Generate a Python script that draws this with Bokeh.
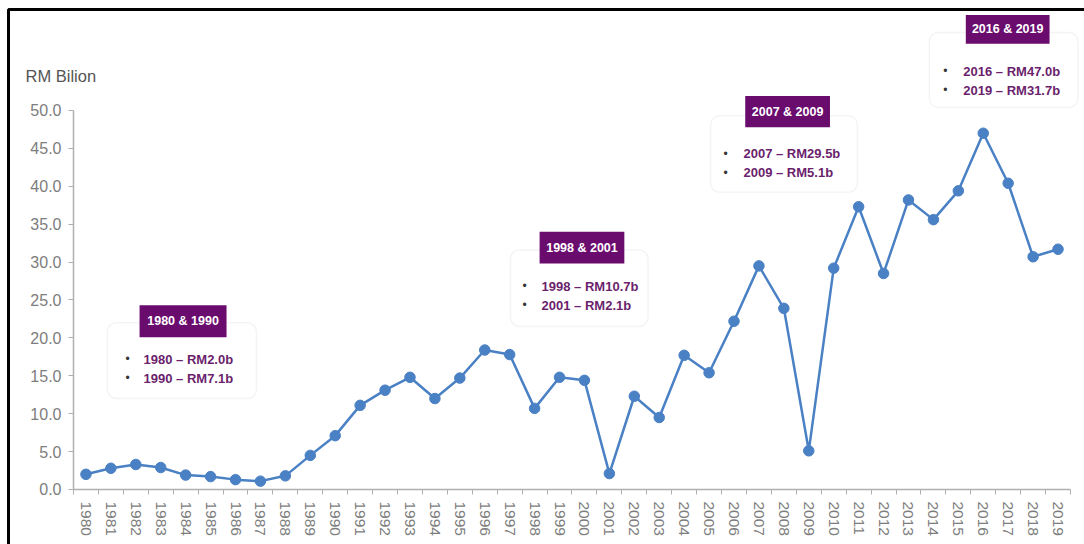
from bokeh.plotting import figure
from bokeh.models import (ColumnDataSource, FixedTicker, NumeralTickFormatter,
                          BoxAnnotation, Range1d)
from bokeh.core.properties import value
from bokeh.embed import file_html
from bokeh.resources import INLINE

# ---------------- data ----------------
years = list(range(1980, 2020))
values = [2.0, 2.8, 3.3, 2.9, 1.9, 1.7, 1.3, 1.1, 1.8, 4.5,
          7.1, 11.1, 13.1, 14.8, 12.0, 14.7, 18.4, 17.8, 10.7, 14.8,
          14.4, 2.1, 12.3, 9.5, 17.7, 15.4, 22.2, 29.5, 23.9, 5.1,
          29.2, 37.3, 28.5, 38.2, 35.6, 39.4, 47.0, 40.4, 30.7, 31.7]
y_ticks = [0, 5, 10, 15, 20, 25, 30, 35, 40, 45, 50]
unit_label = "RM Bilion"
note_titles = ["1980 & 1990", "1998 & 2001", "2007 & 2009", "2016 & 2019"]
note_lines = [["1980 \u2013 RM2.0b", "1990 \u2013 RM7.1b"],
              ["1998 \u2013 RM10.7b", "2001 \u2013 RM2.1b"],
              ["2007 \u2013 RM29.5b", "2009 \u2013 RM5.1b"],
              ["2016 \u2013 RM47.0b", "2019 \u2013 RM31.7b"]]

# ---------------- layout (placement of callouts, in data space) ----------------
callouts = [
    dict(box=(1980.86, 1986.84, 22.0, 12.0), head=(1982.15, 1985.64, 24.3, 20.1),
         bx=1981.67, tx=1982.31, ly=(17.2, 14.7)),
    dict(box=(1997.03, 2002.55, 31.6, 21.5), head=(1998.2, 2001.6, 34.0, 29.8),
         bx=1997.6, tx=1998.28, ly=(26.8, 24.3)),
    dict(box=(2005.06, 2010.95, 49.3, 39.2), head=(2006.45, 2009.85, 51.9, 47.8),
         bx=2005.66, tx=2006.38, ly=(44.3, 41.8)),
    dict(box=(2013.84, 2019.8, 60.3, 50.4), head=(2015.3, 2018.66, 62.6, 58.8),
         bx=2014.48, tx=2015.2, ly=(55.2, 52.7)),
]
PX_PER_Y = 7.58
X0, X1 = 1976.571, 2020.062
Y1 = 64.51
HEIGHT = 544
Y0 = Y1 - HEIGHT / PX_PER_Y
BORDER_X, BORDER_Y = 1976.892, 63.325

FONT = "Liberation Sans"
PURPLE = "#6a0b6e"
TEXT_PURPLE = "#6b1f6d"
BLUE = "#4a80c4"
AXIS_GREY = "#b0b0b0"
LABEL_GREY = "#7d7d7d"

p = figure(width=1084, height=HEIGHT, output_backend="svg", toolbar_location=None,
           x_range=Range1d(X0, X1), y_range=Range1d(Y0, Y1),
           min_border_left=0, min_border_right=0, min_border_top=0,
           min_border_bottom=0)
p.outline_line_color = None
p.grid.visible = False
p.background_fill_color = "white"
p.border_fill_color = "white"

# y axis
yax = p.yaxis[0]
yax.fixed_location = years[0] - 0.5
yax.ticker = FixedTicker(ticks=y_ticks)
yax.formatter = NumeralTickFormatter(format="0.0")
yax.bounds = (0, 50)
yax.major_tick_out = 5
yax.major_tick_in = 0
yax.minor_tick_line_color = None
yax.major_label_standoff = 7
yax.major_label_text_font = FONT
yax.major_label_text_font_size = "16px"
yax.major_label_text_color = LABEL_GREY
yax.axis_line_color = AXIS_GREY
yax.major_tick_line_color = AXIS_GREY
yax.axis_line_width = 1.5

# x axis
xax = p.xaxis[0]
xax.fixed_location = 0
xax.ticker = FixedTicker(ticks=years,
                         minor_ticks=[y - 0.5 for y in years] + [years[-1] + 0.5])
xax.major_label_overrides = {y: str(y) for y in years}
xax.bounds = (years[0] - 0.5, years[-1] + 0.5)
xax.major_tick_out = 0
xax.major_tick_in = 0
xax.major_tick_line_color = None
xax.minor_tick_out = 5
xax.minor_tick_in = 0
xax.minor_tick_line_color = AXIS_GREY
xax.major_label_orientation = "vertical"
xax.major_label_standoff = 7
xax.major_label_text_font = FONT
xax.major_label_text_font_size = "15.5px"
xax.major_label_text_color = LABEL_GREY
xax.axis_line_color = AXIS_GREY
xax.axis_line_width = 1.5

# picture frame (black border on top and left)
p.line(x=[X1 + 1, BORDER_X, BORDER_X], y=[BORDER_Y, BORDER_Y, Y0 - 1],
       line_color="black", line_width=3)

# callout boxes
for c in callouts:
    l, r, t, b = c["box"]
    p.add_layout(BoxAnnotation(left=l, right=r, top=t, bottom=b, level="underlay",
                               fill_color="white", fill_alpha=1.0,
                               line_color="#dcdcdc", line_width=1.5, border_radius=9))
    l, r, t, b = c["head"]
    p.add_layout(BoxAnnotation(left=l, right=r, top=t, bottom=b, level="underlay",
                               fill_color=PURPLE, fill_alpha=1.0, line_color=None))

# series
src = ColumnDataSource(dict(x=years, y=values))
p.line("x", "y", source=src, line_color=BLUE, line_width=2.5)
p.scatter("x", "y", source=src, size=10.5, fill_color=BLUE, line_color=BLUE)

# callout texts
hx, hy, hs = [], [], []
bx, by = [], []
tx, ty, ts = [], [], []
for c, title, lines in zip(callouts, note_titles, note_lines):
    l, r, t, b = c["head"]
    hx.append((l + r) / 2); hy.append((t + b) / 2); hs.append(title)
    for yy, s in zip(c["ly"], lines):
        bx.append(c["bx"]); by.append(yy)
        tx.append(c["tx"]); ty.append(yy); ts.append(s)

p.text(x=hx, y=hy, text=hs, text_font=value(FONT), text_font_size="12.5px",
       text_font_style="bold", text_color="white", text_align="center",
       text_baseline="middle")
p.text(x=bx, y=by, text=["\u2022"] * len(bx), text_font=value(FONT),
       text_font_size="12px", text_color="#333333", text_align="center",
       text_baseline="middle")
p.text(x=tx, y=ty, text=ts, text_font=value(FONT), text_font_size="13px",
       text_font_style="bold", text_color=TEXT_PURPLE, text_align="left",
       text_baseline="middle")

# unit label
p.text(x=[1977.575], y=[54.5], text=[unit_label], text_font=value(FONT),
       text_font_size="16.5px", text_color="#555555", text_align="left",
       text_baseline="middle")

open("out.html", "w").write(file_html(p, INLINE))
